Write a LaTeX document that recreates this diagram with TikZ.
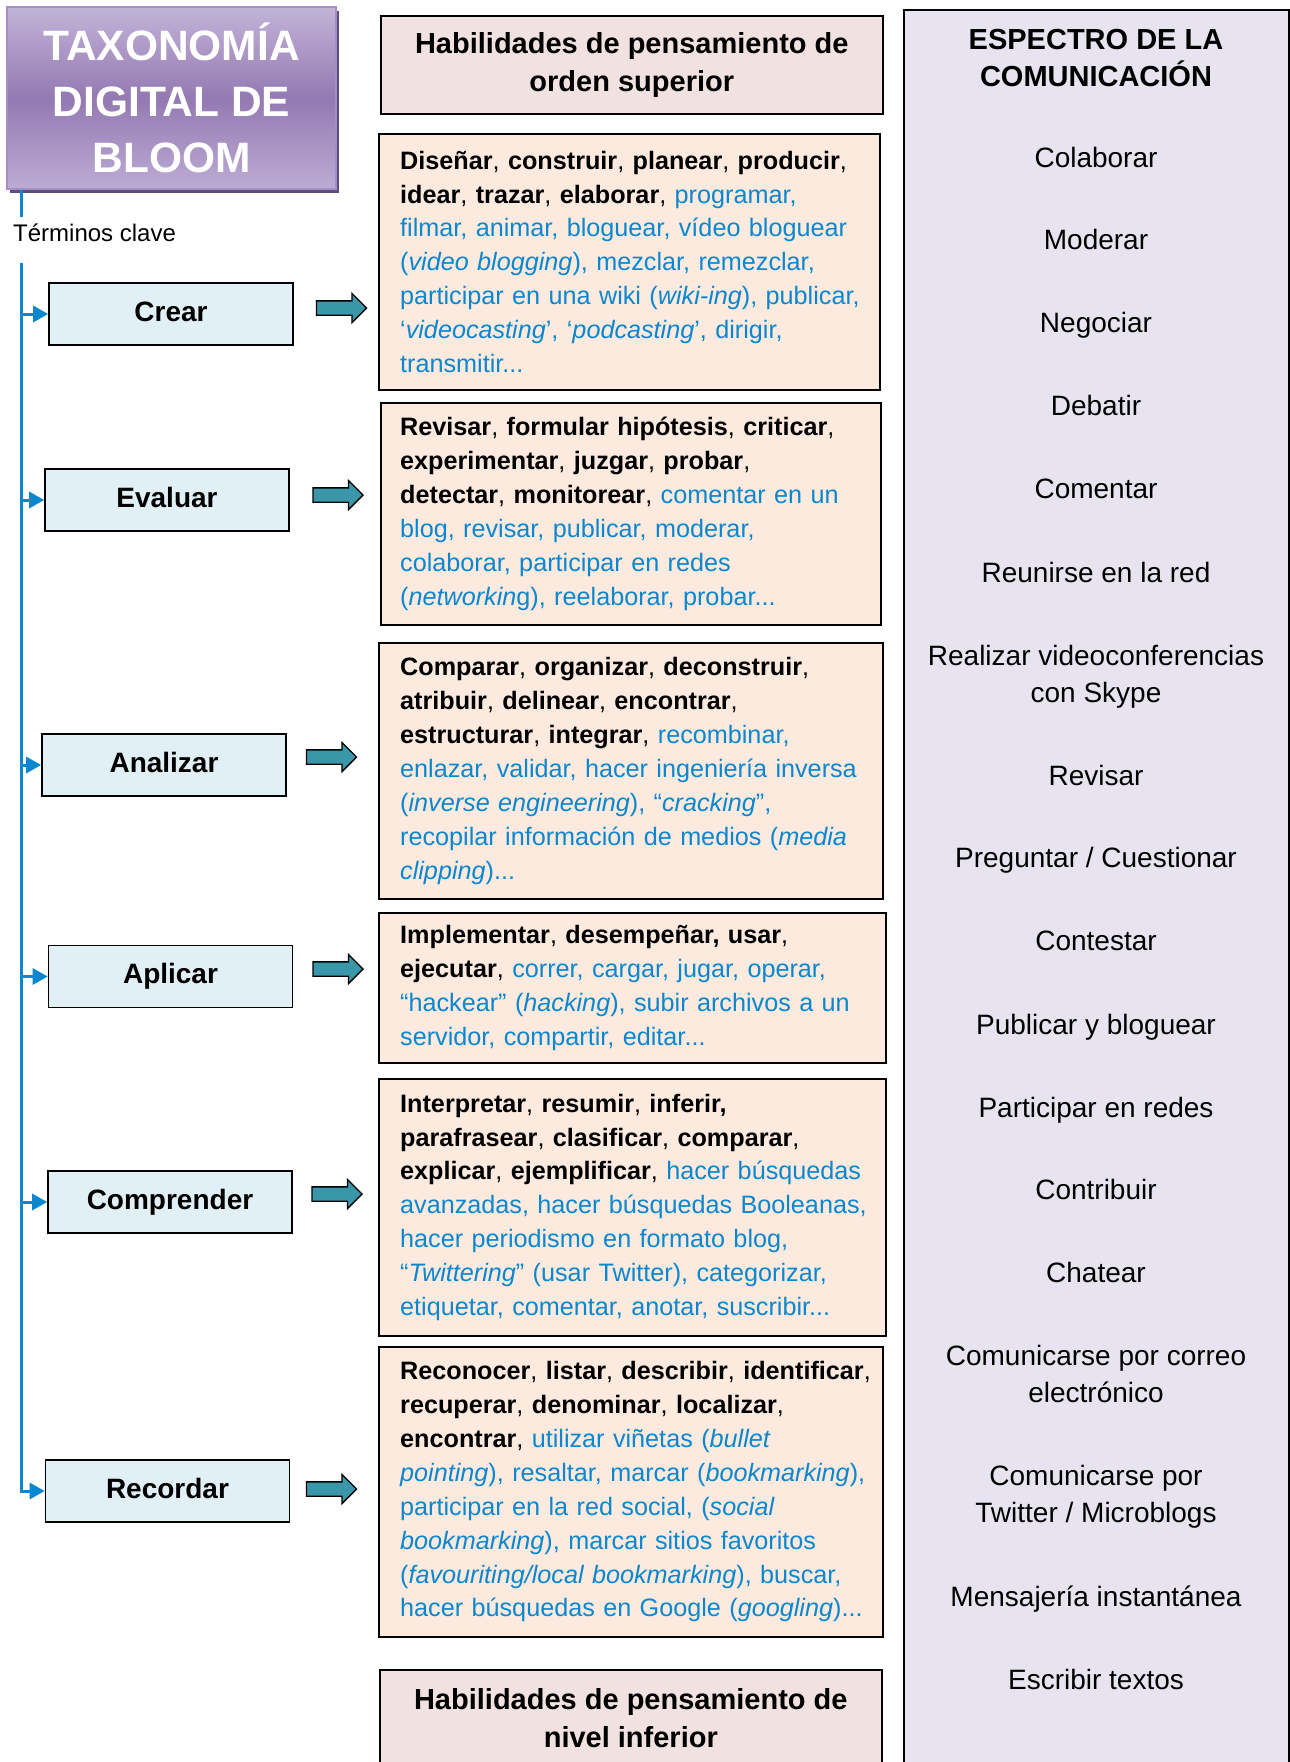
\documentclass[tikz,border=0pt]{standalone}
\usepackage{fontspec}
\setmainfont{Liberation Sans}
\usetikzlibrary{arrows.meta,positioning,shapes.arrows,shadows}

\definecolor{keyblue}{HTML}{0A87CE}
\definecolor{stagefill}{HTML}{E1F0F5}
\definecolor{verbfill}{HTML}{FCEADF}
\definecolor{headfill}{HTML}{F2E1E1}
\definecolor{spectrumfill}{HTML}{E7E4EF}
\definecolor{arrowteal}{HTML}{3A97A9}
\definecolor{titletop}{HTML}{C2B4D8}
\definecolor{titlemid}{HTML}{9479B2}
\definecolor{titlebot}{HTML}{BCACD4}
\definecolor{titleedge}{HTML}{A28FC6}
\definecolor{titleshadow}{HTML}{5E4C7C}

\newcommand{\fs}[2]{\fontsize{#1}{#2}\selectfont}

\begin{document}
\begin{tikzpicture}[x=1pt,y=-1pt,
  stage/.style={draw, line width=1.6pt, fill=stagefill, minimum width=244pt, minimum height=62pt, font=\fs{28}{34}\bfseries, text height=21pt, text depth=7pt},
  verbbox/.style={draw, line width=1.6pt, fill=verbfill, anchor=north west, inner sep=0pt},
  verbs/.style={inner sep=0pt, text width=495pt, align=left, font=\fs{25.2}{33.9}},
  levelbox/.style={draw, line width=1.6pt, fill=headfill, anchor=north west, minimum width=502pt, align=center, font=\fs{29}{38}\bfseries},
  spectrum/.style={anchor=base, align=center, font=\fs{28}{37}},
  bigarrow/.style={single arrow, draw, line width=1.3pt, fill=arrowteal, minimum height=50pt, single arrow head extend=7.5pt, inner xsep=0pt, inner ysep=6.5pt},
  spine/.style={draw=keyblue, line width=3pt},
  tip/.style={-{Triangle[length=15pt,width=16pt]}}]

  \useasboundingbox (0,0) rectangle (1290,1762);
  \fill[white] (0,0) rectangle (1290,1762);

  % title and key terms
  \node [draw=titleedge, line width=1.2pt, top color=titletop, bottom color=titlebot, middle color=titlemid,
         general shadow={fill=titleshadow, shadow xshift=3pt, shadow yshift=-4pt},
         minimum width=329pt, minimum height=182pt, align=center, text=white, font=\fs{42.5}{56}\bfseries]
        (title) at (171.5,98) {TAXONOMÍA\\DIGITAL DE\\BLOOM};
  \node [anchor=base west, inner sep=0pt, font=\fs{24}{29}] (terminos) at (13,241) {Términos clave};

  \coordinate (gaptop) at (21,217);
  \coordinate (spinetop) at (21,263);

  % levels
  \node [stage] (crear) at (171,314) {Crear};
  \node [stage] (evaluar) at (167,500) {Evaluar};
  \node [stage] (analizar) at (164,765) {Analizar};
  \node [stage] (aplicar) at (170.5,976.5) {Aplicar};
  \node [stage] (comprender) at (170,1202) {Comprender};
  \node [stage] (recordar) at (167.5,1491) {Recordar};

  \draw [spine] (title.south -| spinetop) -- (gaptop);
  \draw [spine,tip] (spinetop) |- (recordar.west);
  \draw [spine,tip] (spinetop |- crear.west) -- (crear.west);
  \draw [spine,tip] (spinetop |- evaluar.west) -- (evaluar.west);
  \draw [spine,tip] (spinetop |- analizar.west) -- (analizar.west);
  \draw [spine,tip] (spinetop |- aplicar.west) -- (aplicar.west);
  \draw [spine,tip] (spinetop |- comprender.west) -- (comprender.west);

  \node [bigarrow] (crearto) at (338,308) {};
  \node [bigarrow] (evaluarto) at (334.5,495) {};
  \node [bigarrow] (analizarto) at (328,757) {};
  \node [bigarrow] (aplicarto) at (334.5,969) {};
  \node [bigarrow] (comprenderto) at (333.5,1194) {};
  \node [bigarrow] (recordarto) at (328,1489) {};

  % verbs
  \node [levelbox, minimum height=98pt] (superior) at (380,15) {Habilidades de pensamiento de\\orden superior};

  \node [verbbox, minimum width=501pt, minimum height=256pt] (crearbox) at (378,133) {};
  \node [verbs, right=22pt of crearbox.west] (crearverbs) {%
\textbf{Diseñar}, \textbf{construir}, \textbf{planear}, \textbf{producir},\\
\textbf{idear}, \textbf{trazar}, \textbf{elaborar}, \color{keyblue}programar,\\
filmar, animar, bloguear, vídeo bloguear\\
(\textit{video blogging}), mezclar, remezclar,\\
participar en una wiki (\textit{wiki-ing}), publicar,\\
‘\textit{videocasting}’, ‘\textit{podcasting}’, dirigir,\\
transmitir...};

  \node [verbbox, minimum width=500pt, minimum height=222pt] (evaluarbox) at (380,402) {};
  \node [verbs, right=20pt of evaluarbox.west] (evaluarverbs) {%
\textbf{Revisar}, \textbf{formular hipótesis}, \textbf{criticar},\\
\textbf{experimentar}, \textbf{juzgar}, \textbf{probar},\\
\textbf{detectar}, \textbf{monitorear}, \color{keyblue}comentar en un\\
blog, revisar, publicar, moderar,\\
colaborar, participar en redes\\
(\textit{networkin}g), reelaborar, probar...};

  \node [verbbox, minimum width=504pt, minimum height=256pt] (analizarbox) at (378,642) {};
  \node [verbs, right=22pt of analizarbox.west] (analizarverbs) {%
\textbf{Comparar}, \textbf{organizar}, \textbf{deconstruir},\\
\textbf{atribuir}, \textbf{delinear}, \textbf{encontrar},\\
\textbf{estructurar}, \textbf{integrar}, \color{keyblue}recombinar,\\
enlazar, validar, hacer ingeniería inversa\\
(\textit{inverse engineering}), “\textit{cracking}”,\\
recopilar información de medios (\textit{media}\\
\textit{clipping})...};

  \node [verbbox, minimum width=507pt, minimum height=150pt] (aplicarbox) at (378,912) {};
  \node [verbs, right=22pt of aplicarbox.west] (aplicarverbs) {%
\textbf{Implementar}, \textbf{desempeñar, usar},\\
\textbf{ejecutar}, \color{keyblue}correr, cargar, jugar, operar,\\
“hackear” (\textit{hacking}), subir archivos a un\\
servidor, compartir, editar...};

  \node [verbbox, minimum width=507pt, minimum height=257pt] (comprenderbox) at (378,1078) {};
  \node [verbs, right=22pt of comprenderbox.west] (comprenderverbs) {%
\textbf{Interpretar}, \textbf{resumir}, \textbf{inferir,}\\
\textbf{parafrasear}, \textbf{clasificar}, \textbf{comparar},\\
\textbf{explicar}, \textbf{ejemplificar}, \color{keyblue}hacer búsquedas\\
avanzadas, hacer búsquedas Booleanas,\\
hacer periodismo en formato blog,\\
“\textit{Twittering}” (usar Twitter), categorizar,\\
etiquetar, comentar, anotar, suscribir...};

  \node [verbbox, minimum width=504pt, minimum height=290pt] (recordarbox) at (378,1346) {};
  \node [verbs, right=22pt of recordarbox.west] (recordarverbs) {%
\textbf{Reconocer}, \textbf{listar}, \textbf{describir}, \textbf{identificar},\\
\textbf{recuperar}, \textbf{denominar}, \textbf{localizar},\\
\textbf{encontrar}, \color{keyblue}utilizar viñetas (\textit{bullet}\\
\textit{pointing}), resaltar, marcar (\textit{bookmarking}),\\
participar en la red social, (\textit{social}\\
\textit{bookmarking}), marcar sitios favoritos\\
(\textit{favouriting/local bookmarking}), buscar,\\
hacer búsquedas en Google (\textit{googling})...};

  \node [levelbox, minimum height=97pt] (inferior) at (379,1669) {Habilidades de pensamiento de\\nivel inferior};

  % communication spectrum
  \node [draw, line width=1.6pt, fill=spectrumfill, anchor=north west, minimum width=385pt, minimum height=1790pt, inner sep=0pt] (spectrumbox) at (903,9) {};
  \node [align=center, font=\fs{29}{37.5}\bfseries] (espectro) at (1096,58) {ESPECTRO DE LA\\COMUNICACIÓN};
  \node [spectrum] (colaborar) at (1096,167) {Colaborar};
  \node [spectrum] (moderar) at (1096,249) {Moderar};
  \node [spectrum] (negociar) at (1096,332) {Negociar};
  \node [spectrum] (debatir) at (1096,415) {Debatir};
  \node [spectrum] (comentar) at (1096,498) {Comentar};
  \node [spectrum] (reunirse) at (1096,582) {Reunirse en la red};
  \node [spectrum, anchor=center] (videoconf) at (1096,676.5) {Realizar videoconferencias\\con Skype};
  \node [spectrum] (revisar) at (1096,785) {Revisar};
  \node [spectrum] (preguntar) at (1096,867) {Preguntar / Cuestionar};
  \node [spectrum] (contestar) at (1096,950) {Contestar};
  \node [spectrum] (publicar) at (1096,1034) {Publicar y bloguear};
  \node [spectrum] (redes) at (1096,1117) {Participar en redes};
  \node [spectrum] (contribuir) at (1096,1199) {Contribuir};
  \node [spectrum] (chatear) at (1096,1282) {Chatear};
  \node [spectrum, anchor=center] (correo) at (1096,1373.5) {Comunicarse por correo\\electrónico};
  \node [spectrum, anchor=center] (twitter) at (1096,1497) {Comunicarse por\\Twitter / Microblogs};
  \node [spectrum] (mensajeria) at (1096,1606) {Mensajería instantánea};
  \node [spectrum] (escribir) at (1096,1689) {Escribir textos};

\end{tikzpicture}
\end{document}
